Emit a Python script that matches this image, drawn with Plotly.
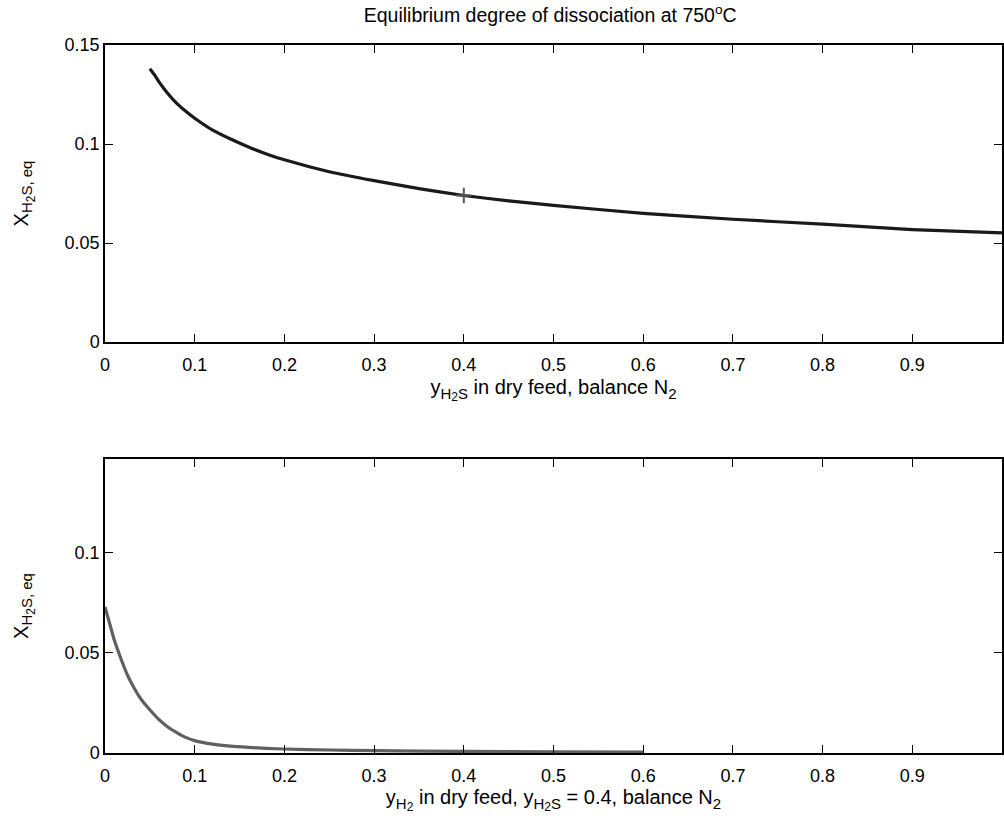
import plotly.graph_objects as go
from plotly.subplots import make_subplots

# Top: X_eq vs y_H2S in feed
y_h2s = [0.05, 0.055, 0.06, 0.07, 0.08, 0.09, 0.10, 0.12, 0.14, 0.16, 0.18, 0.20, 0.25,
         0.30, 0.35, 0.40, 0.45, 0.50, 0.60, 0.70, 0.80, 0.90, 1.00]
x_eq_top = [0.138, 0.135, 0.1315, 0.1255, 0.1205, 0.1165, 0.113, 0.107, 0.1025, 0.0985,
            0.095, 0.092, 0.086, 0.0815, 0.0775, 0.074, 0.0713, 0.069, 0.065, 0.062,
            0.0595, 0.0568, 0.0551]
marker_x = [0.4]
marker_y = [0.074]

# Bottom: X_eq vs y_H2 in feed (y_H2S = 0.4)
y_h2 = [0.0, 0.005, 0.01, 0.015, 0.02, 0.025, 0.03, 0.04, 0.05, 0.06, 0.07, 0.08, 0.09,
        0.10, 0.12, 0.14, 0.16, 0.18, 0.20, 0.25, 0.30, 0.40, 0.50, 0.60]
x_eq_bot = [0.073, 0.065, 0.057, 0.0505, 0.0445, 0.039, 0.0345, 0.027, 0.0216, 0.0168,
            0.013, 0.0102, 0.0078, 0.0062, 0.0044, 0.0034, 0.0028, 0.0023, 0.0020,
            0.0015, 0.0012, 0.0008, 0.0006, 0.0005]

x_ticks = [0, 0.1, 0.2, 0.3, 0.4, 0.5, 0.6, 0.7, 0.8, 0.9, 1]
x_tick_text = ["0", "0.1", "0.2", "0.3", "0.4", "0.5", "0.6", "0.7", "0.8", "0.9", "1"]


def s1(t):
    return '<span style="font-size:15px">' + t + '</span>'


def s2(t):
    return '<span style="font-size:12px">' + t + '</span>'


H2S_SUB = "<sub>" + s1("H") + "<sub>" + s2("2") + "</sub>" + s1("S") + "</sub>"
H2_SUB = "<sub>" + s1("H") + "<sub>" + s2("2") + "</sub></sub>"
N2_SUB = "<sub>" + s1("2") + "</sub>"
Y_TITLE = "X<sub>" + s1("H") + "<sub>" + s2("2") + "</sub>" + s1("S, eq") + "</sub>"
X1_TITLE = "y" + H2S_SUB + " in dry feed, balance N" + N2_SUB
X2_TITLE = "y" + H2_SUB + " in dry feed, y" + H2S_SUB + " = 0.4, balance N" + N2_SUB

fig = make_subplots(rows=2, cols=1)

fig.add_trace(go.Scatter(x=y_h2s, y=x_eq_top, mode="lines",
                         line=dict(color="#1a1a1a", width=3.2, shape="spline", smoothing=0.5),
                         showlegend=False), row=1, col=1)
fig.add_trace(go.Scatter(x=marker_x, y=marker_y, mode="markers",
                         marker=dict(symbol="cross-thin", size=11,
                                     line=dict(color="#555", width=2)),
                         showlegend=False), row=1, col=1)
fig.add_trace(go.Scatter(x=y_h2, y=x_eq_bot, mode="lines",
                         line=dict(color="#606060", width=3.2, shape="spline", smoothing=0.5),
                         showlegend=False), row=2, col=1)

FAM = "Liberation Sans, Arial, sans-serif"
tick_font = dict(family=FAM, size=18, color="black")
label_font = dict(family=FAM, size=20, color="black")

axis_common = dict(showline=True, linecolor="black", linewidth=1.5, mirror="allticks",
                   ticks="inside", ticklen=8, tickcolor="black", tickwidth=1.2,
                   showgrid=False, zeroline=False, tickfont=tick_font)

fig.update_xaxes(range=[0, 1], tickvals=x_ticks, ticktext=x_tick_text,
                 ticklabelstandoff=6, **axis_common)
fig.update_yaxes(**axis_common)

fig.update_layout(
    width=1004, height=824,
    margin=dict(l=105, r=0, t=45, b=71),
    paper_bgcolor="white", plot_bgcolor="white",
    font=tick_font,
    title=dict(text="Equilibrium degree of dissociation at 750<sup>o</sup>C",
               x=0.548, xanchor="center", y=0.99, yanchor="top",
               font=dict(family=FAM, size=19.5, color="black")),
    xaxis=dict(domain=[0, 1], anchor="y",
               title=dict(text=X1_TITLE, standoff=6, font=label_font)),
    yaxis=dict(domain=[0.5805, 1], range=[0, 0.15],
               tickvals=[0, 0.05, 0.1, 0.15], ticktext=["0", "0.05", "0.1", "0.15"],
               title=dict(text=Y_TITLE, standoff=31, font=label_font)),
    xaxis2=dict(domain=[0, 1], anchor="y2",
                title=dict(text=X2_TITLE, standoff=4, font=label_font)),
    yaxis2=dict(domain=[0, 0.4153], range=[0, 0.147],
                tickvals=[0, 0.05, 0.1], ticktext=["0", "0.05", "0.1"],
                title=dict(text=Y_TITLE, standoff=31, font=label_font)),
)

fig.write_html("out.html")
